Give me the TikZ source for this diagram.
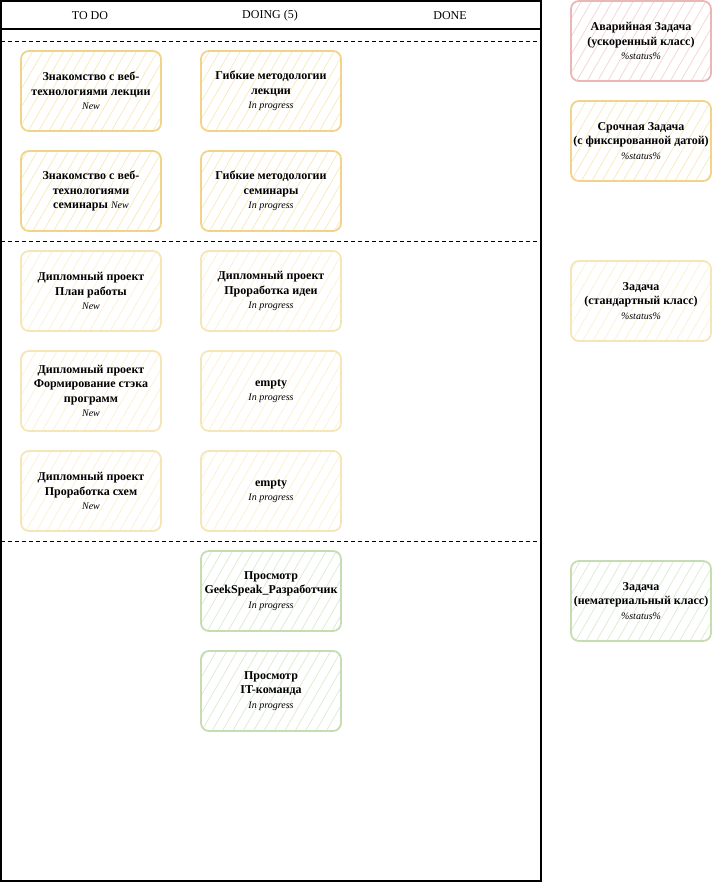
\documentclass[tikz,border=0pt]{standalone}
\usepackage{fontspec}
\setmainfont{Liberation Serif}
\usetikzlibrary{patterns.meta}
\definecolor{ybord}{HTML}{F0D48C}
\definecolor{yhatch}{HTML}{F8EAC0}
\definecolor{lybord}{HTML}{F5E6BA}
\definecolor{lyhatch}{HTML}{FBF1D4}
\definecolor{rbord}{HTML}{E9B7B5}
\definecolor{rhatch}{HTML}{F5D6D5}
\definecolor{gbord}{HTML}{C6DCB1}
\definecolor{ghatch}{HTML}{DFEBD3}
\newcommand{\stat}[1]{{\normalfont\itshape\fontsize{10}{14}\selectfont #1}}
\begin{document}
\begin{tikzpicture}[x=1pt,y=-1pt,
  card/.style 2 args={draw=#1, line width=1.8pt, rounded corners=8pt,
    pattern={Lines[angle=60,distance=9pt,line width=0.8pt]}, pattern color=#2,
    minimum width=140pt, minimum height=80pt, inner sep=2pt, align=center,
    font=\bfseries\fontsize{12}{14.5}\selectfont},
  ycard/.style={card={ybord}{yhatch}},
  lcard/.style={card={lybord}{lyhatch}},
  rcard/.style={card={rbord}{rhatch}},
  gcard/.style={card={gbord}{ghatch}},
  head/.style={font=\fontsize{12}{14}\selectfont},
  sep/.style={dash pattern=on 4pt off 3pt, line width=0.8pt}]
\useasboundingbox (0,0) rectangle (712,882);
% frame
\draw[line width=1.8pt] (1,1) rectangle (541,881);
\draw[line width=1.4pt] (1,29) -- (541,29);
\node[head] (h1) at (90,15.5) {TO DO};
\node[head] (h2) at (270,15.5) {DOING (5)};
\node[head] (h3) at (450,15.5) {DONE};
\draw[sep] (1,41) -- (541,41);
\draw[sep] (1,241) -- (541,241);
\draw[sep] (1,541) -- (541,541);
% TO DO
\node[ycard] (t1) at (91,91) {Знакомство с веб-\\технологиями лекции\\\stat{New}};
\node[ycard] (t2) at (91,191) {Знакомство с веб-\\технологиями\\семинары \stat{New}};
\node[lcard] (t3) at (91,291) {Дипломный проект\\План работы\\\stat{New}};
\node[lcard] (t4) at (91,391) {Дипломный проект\\Формирование стэка\\программ\\\stat{New}};
\node[lcard] (t5) at (91,491) {Дипломный проект\\Проработка схем\\\stat{New}};
% DOING
\node[ycard] (d1) at (271,91) {Гибкие методологии\\лекции\\\stat{In progress}};
\node[ycard] (d2) at (271,191) {Гибкие методологии\\семинары\\\stat{In progress}};
\node[lcard] (d3) at (271,291) {Дипломный проект\\Проработка идеи\\\stat{In progress}};
\node[lcard] (d4) at (271,391) {empty\\\stat{In progress}};
\node[lcard] (d5) at (271,491) {empty\\\stat{In progress}};
\node[gcard] (d6) at (271,591) {Просмотр\\GeekSpeak\_Разработчик\\\stat{In progress}};
\node[gcard] (d7) at (271,691) {Просмотр\\IT-команда\\\stat{In progress}};
% legend
\node[rcard] (l1) at (641,41) {Аварийная Задача\\(ускоренный класс)\\\stat{\%status\%}};
\node[ycard] (l2) at (641,141) {Срочная Задача\\(с фиксированной датой)\\\stat{\%status\%}};
\node[lcard] (l3) at (641,301) {Задача\\(стандартный класс)\\\stat{\%status\%}};
\node[gcard] (l4) at (641,601) {Задача\\(нематериальный класс)\\\stat{\%status\%}};
\end{tikzpicture}
\end{document}
